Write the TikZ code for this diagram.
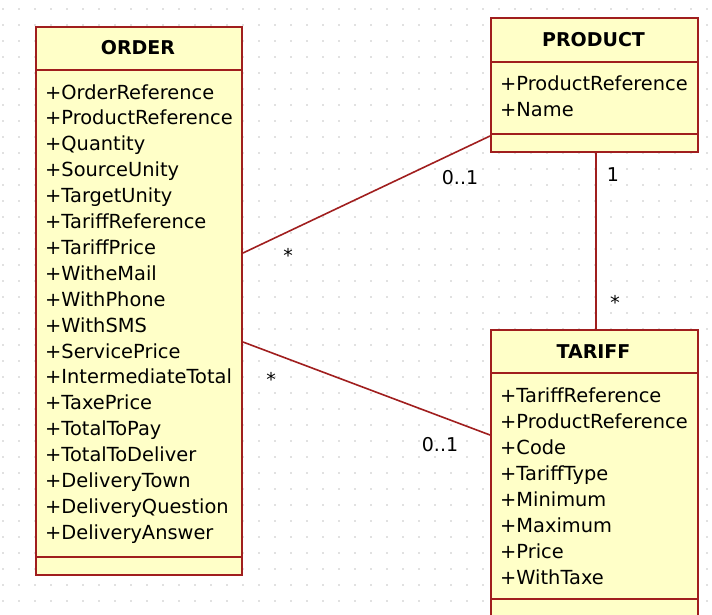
\documentclass[tikz,border=0pt]{standalone}
\usepackage{fontspec}
\setmainfont{DejaVu Sans}
\usepackage{tikz}
\definecolor{umlred}{RGB}{160,30,30}
\definecolor{umlfill}{RGB}{255,255,200}
\definecolor{griddot}{RGB}{195,195,195}
\tikzset{
  clsbox/.style={draw=umlred,fill=umlfill,line width=2pt,anchor=north west,inner sep=0pt},
  clssep/.style={draw=umlred,line width=2pt},
  attr/.style={anchor=base west,inner sep=0pt,font=\fontsize{19.4}{22}\selectfont},
  title/.style={anchor=base,inner sep=0pt,font=\fontsize{19}{22}\selectfont\bfseries},
  mult/.style={anchor=base,inner sep=0pt,font=\fontsize{19}{22}\selectfont},
  assoc/.style={draw=umlred,line width=1.6pt}
}
\begin{document}
\begin{tikzpicture}[x=1pt,y=-1pt]
  \useasboundingbox (0,0) rectangle (712,614);
  \clip (0,0) rectangle (712,614);
  \fill[white] (0,0) rectangle (712,614);
  % dotted grid
  \foreach \gx in {3,19,...,707}{
    \foreach \gy in {9,25,...,605}{
      \fill[griddot] (\gx,\gy) circle (0.8pt);
    }
  }
  % classes
  \node[clsbox,minimum width=206pt,minimum height=548pt] (order) at (35,26) {};
  \node[clsbox,minimum width=207pt,minimum height=134pt] (product) at (490,17) {};
  \node[clsbox,minimum width=207pt,minimum height=300pt] (tariff) at (490,329) {};
  % compartments
  \draw[clssep] ([yshift=-44pt]order.north west) -- ([yshift=-44pt]order.north east);
  \draw[clssep] ([yshift=19pt]order.south west) -- ([yshift=19pt]order.south east);
  \draw[clssep] ([yshift=-45pt]product.north west) -- ([yshift=-45pt]product.north east);
  \draw[clssep] ([yshift=19pt]product.south west) -- ([yshift=19pt]product.south east);
  \draw[clssep] ([yshift=-44pt]tariff.north west) -- ([yshift=-44pt]tariff.north east);
  \draw[clssep] ([yshift=-270pt]tariff.north west) -- ([yshift=-270pt]tariff.north east);
  % titles
  \node[title] (ordertitle) at (138,54) {ORDER};
  \node[title] (producttitle) at (593.5,46) {PRODUCT};
  \node[title] (tarifftitle) at (593.5,358) {TARIFF};
  % attributes
  \foreach \a [count=\i from 0] in {OrderReference,ProductReference,Quantity,SourceUnity,
      TargetUnity,TariffReference,TariffPrice,WitheMail,WithPhone,WithSMS,ServicePrice,
      IntermediateTotal,TaxePrice,TotalToPay,TotalToDeliver,DeliveryTown,DeliveryQuestion,
      DeliveryAnswer}
    \node[attr] (oa\i) at (45,{99+25.9*\i}) {+\a};
  \foreach \a [count=\i from 0] in {ProductReference,Name}
    \node[attr] (pa\i) at (500,{90+26*\i}) {+\a};
  \foreach \a [count=\i from 0] in {TariffReference,ProductReference,Code,TariffType,
      Minimum,Maximum,Price,WithTaxe}
    \node[attr] (ta\i) at (500,{402+26*\i}) {+\a};
  % associations
  \draw[assoc] ([yshift=48pt]order.east) -- ([yshift=-51pt]product.west);
  \draw[assoc] ([yshift=-41pt]order.east) -- ([yshift=45pt]tariff.west);
  \draw[assoc] ([xshift=1.5pt]product.south) -- ([xshift=1.5pt]product.south |- tariff.north);
  % multiplicities
  \node[mult] (m1) at (460,184) {0..1};
  \node[mult] (m2) at (288,262) {*};
  \node[mult] (m3) at (613,181) {1};
  \node[mult] (m4) at (615,309) {*};
  \node[mult] (m5) at (271,386) {*};
  \node[mult] (m6) at (440,451) {0..1};
\end{tikzpicture}
\end{document}
